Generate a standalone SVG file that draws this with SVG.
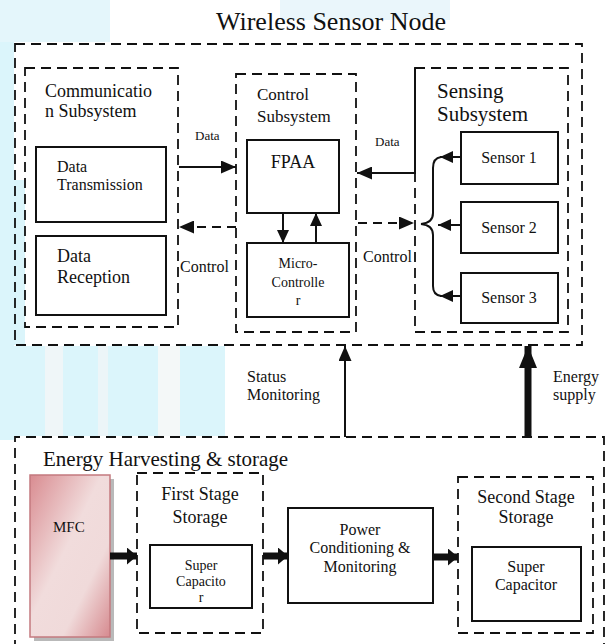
<svg xmlns="http://www.w3.org/2000/svg" width="606" height="644" viewBox="0 0 606 644">
<defs>
<style>
text{font-family:"Liberation Serif","Times New Roman",serif;fill:#111}
.dash{fill:none;stroke:#111;stroke-width:1.8;stroke-dasharray:10 6}
.box{fill:#fff;stroke:#111;stroke-width:2}
.ln{fill:none;stroke:#111;stroke-width:2}
.dl{fill:none;stroke:#111;stroke-width:2;stroke-dasharray:9 6}
.th{fill:none;stroke:#111;stroke-width:7}
.c{text-anchor:middle}
</style>
<marker id="ah" markerUnits="userSpaceOnUse" markerWidth="15" markerHeight="13" refX="15" refY="6.5" orient="auto"><path d="M0,0 L15,6.5 L0,13 z" fill="#111"/></marker>
<marker id="ahs" markerUnits="userSpaceOnUse" markerWidth="13" markerHeight="12" refX="13" refY="6" orient="auto"><path d="M0,0 L13,6 L0,12 z" fill="#111"/></marker>
<marker id="aht" markerUnits="userSpaceOnUse" markerWidth="10" markerHeight="17" refX="10" refY="8.5" orient="auto"><path d="M0,0 L10,8.5 L0,17 z" fill="#111"/></marker>
<marker id="ahe" markerUnits="userSpaceOnUse" markerWidth="22" markerHeight="18" refX="22" refY="9" orient="auto"><path d="M0,0 L22,9 L0,18 z" fill="#111"/></marker>
<linearGradient id="mfcg" x1="0" y1="0" x2="1" y2="1">
<stop offset="0" stop-color="#d98c91"/>
<stop offset="0.45" stop-color="#f1dcdc"/>
<stop offset="0.7" stop-color="#f0dada"/>
<stop offset="1" stop-color="#d68a8f"/>
</linearGradient>
</defs>
<rect width="606" height="644" fill="#fff"/>
<g id="watermark" opacity="0.9">
<rect x="0" y="0" width="14" height="440" fill="#d8f4fb"/>
<rect x="0" y="0" width="110" height="42" fill="#e2f6fb"/>
<rect x="280" y="0" width="170" height="20" fill="#e8f5fb"/>
<rect x="0" y="180" width="25" height="165" fill="#d8f4fb"/>
<rect x="0" y="346" width="225" height="90" fill="#d8f4fb"/>
<rect x="45" y="346" width="18" height="90" fill="#eef6f8"/>
<rect x="98" y="346" width="10" height="90" fill="#eaf5f8"/>
<rect x="158" y="346" width="22" height="90" fill="#f3f8f8"/>
</g>
<text x="331" y="30" class="c" font-size="26">Wireless Sensor Node</text>
<g id="wsn"><rect x="15" y="44" width="567" height="301" class="dash"/></g>
<g id="comm">
<rect x="25" y="68" width="153" height="259" class="dash"/>
<text x="45" y="97" font-size="18">Communicatio</text>
<text x="45" y="117" font-size="18">n Subsystem</text>
</g>
<g id="dtx"><rect x="36" y="147" width="130" height="75" class="box"/>
<text x="57" y="172" font-size="16">Data</text><text x="57" y="190" font-size="16">Transmission</text></g>
<g id="drx"><rect x="36" y="236" width="130" height="79" class="box"/>
<text x="57" y="262" font-size="18">Data</text><text x="57" y="283" font-size="18">Reception</text></g>
<g id="ctrl">
<rect x="236" y="74" width="120" height="258" class="dash"/>
<text x="257" y="100" font-size="17">Control</text>
<text x="257" y="122" font-size="17">Subsystem</text>
</g>
<g id="fpaa"><rect x="247" y="140" width="92" height="73" class="box"/>
<text x="293" y="168" class="c" font-size="18">FPAA</text></g>
<g id="mcu"><rect x="247" y="243" width="102" height="74" class="box"/>
<text x="298" y="268" class="c" font-size="14">Micro-</text>
<text x="298" y="287" class="c" font-size="14">Controlle</text>
<text x="298" y="305" class="c" font-size="14">r</text></g>
<g id="sens">
<rect x="415" y="68" width="153" height="264" class="dash"/>
<text x="437" y="98" font-size="21">Sensing</text>
<text x="437" y="121" font-size="21">Subsystem</text>
</g>
<g id="s1"><rect x="461" y="132" width="97" height="52" class="box"/><text x="509" y="163" class="c" font-size="16">Sensor 1</text></g>
<g id="s2"><rect x="461" y="202" width="97" height="51" class="box"/><text x="509" y="233" class="c" font-size="16">Sensor 2</text></g>
<g id="s3"><rect x="461" y="273" width="97" height="50" class="box"/><text x="509" y="303" class="c" font-size="16">Sensor 3</text></g>
<g id="energy">
<path d="M15,650 V437 H604 V650" class="dash"/>
<text x="43" y="466" font-size="21">Energy Harvesting &amp; storage</text>
</g>
<g id="mfc">
<rect x="34" y="479" width="80" height="162" fill="#8a8a8a" opacity="0.6"/>
<rect x="30" y="475" width="80" height="162" fill="url(#mfcg)" stroke="#c47a7f" stroke-width="1.5"/>
<text x="53" y="532" font-size="15">MFC</text>
</g>
<g id="first">
<rect x="137" y="473" width="126" height="160" class="dash"/>
<text x="200" y="500" class="c" font-size="18">First Stage</text>
<text x="200" y="523" class="c" font-size="18">Storage</text>
</g>
<g id="sc1"><rect x="150" y="545" width="102" height="63" class="box"/>
<text x="201" y="570" class="c" font-size="14">Super</text>
<text x="201" y="586" class="c" font-size="14">Capacito</text>
<text x="201" y="602" class="c" font-size="14">r</text></g>
<g id="power"><rect x="288" y="508" width="145" height="95" class="box"/>
<text x="360" y="535" class="c" font-size="16">Power</text>
<text x="360" y="553" class="c" font-size="16">Conditioning &amp;</text>
<text x="360" y="572" class="c" font-size="16">Monitoring</text></g>
<g id="second">
<rect x="458" y="477" width="135" height="156" class="dash"/>
<text x="526" y="503" class="c" font-size="18">Second Stage</text>
<text x="526" y="523" class="c" font-size="18">Storage</text>
</g>
<g id="sc2"><rect x="472" y="547" width="109" height="74" class="box"/>
<text x="526" y="572" class="c" font-size="16">Super</text>
<text x="526" y="590" class="c" font-size="16">Capacitor</text></g>
<g id="connectors">
<path d="M179,167 H236" class="ln" marker-end="url(#ah)"/>
<path d="M236,227 H179" class="dl" marker-end="url(#ah)"/>
<path d="M283,213 V243" class="ln" marker-end="url(#ahs)"/>
<path d="M316,243 V213" class="ln" marker-end="url(#ahs)"/>
<path d="M415,68 V173 H357" class="ln" marker-end="url(#ah)"/>
<path d="M358,223 H414" class="dl" marker-end="url(#ah)"/>
<path d="M461,157 H440" class="ln" marker-end="url(#ahs)"/>
<path d="M461,225 H438" class="ln" marker-end="url(#ahs)"/>
<path d="M461,296 H440" class="ln" marker-end="url(#ahs)"/>
<path d="M441,157 Q433,158 433,168 V213 Q433,223 421,224 Q433,225 433,235 V286 Q433,295 441,296" class="ln"/>
<path d="M345,437 V346" class="ln" marker-end="url(#ah)"/>
<path d="M528,437 V346" class="th" marker-end="url(#ahe)"/>
<path d="M110,556 H137" class="th" marker-end="url(#aht)"/>
<path d="M263,556 H288" class="th" marker-end="url(#aht)"/>
<path d="M433,557 H458" class="th" marker-end="url(#aht)"/>
</g>
<text x="195" y="140" font-size="13">Data</text>
<text x="180" y="272" font-size="16">Control</text>
<text x="375" y="146" font-size="13">Data</text>
<text x="363" y="262" font-size="16">Control</text>
<text x="247" y="382" font-size="16">Status</text>
<text x="247" y="400" font-size="16">Monitoring</text>
<text x="553" y="382" font-size="16">Energy</text>
<text x="553" y="400" font-size="16">supply</text>
</svg>
